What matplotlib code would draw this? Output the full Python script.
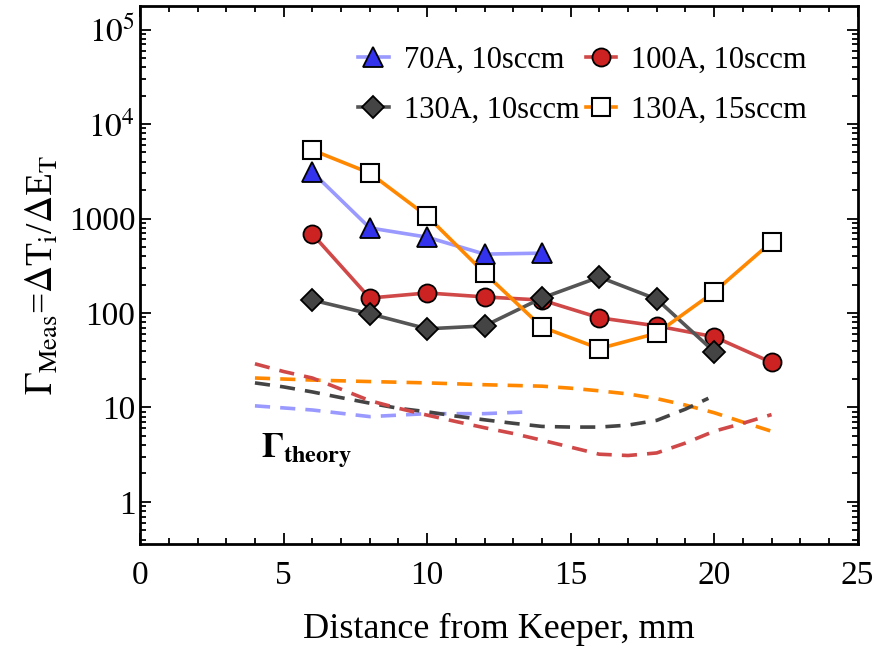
import numpy as np
import matplotlib.pyplot as plt
from matplotlib.ticker import FixedLocator, MultipleLocator, LogLocator, NullFormatter

plt.rcParams['font.family'] = ['Liberation Serif', 'DejaVu Serif']
plt.rcParams['mathtext.fontset'] = 'stix'

# measured data
x_70 = [6, 8, 10, 12, 14]
y_70 = [3100, 795, 635, 420, 430]

x_100 = [6, 8, 10, 12, 14, 16, 18, 20, 22]
y_100 = [685, 144, 163, 148, 137, 89, 73, 56, 30]

x_130 = [6, 8, 10, 12, 14, 16, 18, 20]
y_130 = [137, 98, 68, 73, 144, 240, 140, 39]

x_130_15 = [6, 8, 10, 12, 14, 16, 18, 20, 22]
y_130_15 = [5300, 3030, 1060, 265, 71, 42, 61, 167, 564]

# theory curves
xt_70 = [4, 6, 8, 10, 12, 13.6]
yt_70 = [10.4, 9.4, 8.0, 8.6, 8.6, 9.0]

xt_100 = [4, 5, 6, 7, 8, 9, 10, 11, 12, 13, 14, 15, 16, 17, 18, 19, 20, 21, 22]
yt_100 = [29, 24, 20.5, 15.6, 11.8, 9.8, 8.3, 7.1, 6.1, 5.3, 4.5, 3.8, 3.2, 3.1, 3.3, 4.2, 5.6, 6.8, 8.4]

xt_130 = [4, 5, 6, 7, 8, 9, 10, 11, 12, 13, 14, 15, 16, 17, 18, 19, 19.8]
yt_130 = [18.2, 16.5, 14.6, 12.7, 11.1, 9.8, 9.0, 8.1, 7.4, 6.8, 6.3, 6.2, 6.2, 6.5, 7.3, 9.6, 12.5]

xt_130_15 = [4, 6, 8, 10, 12, 14, 15, 16, 17, 18, 19, 20, 21, 22]
yt_130_15 = [20.5, 19.5, 18.8, 18.2, 17.4, 16.8, 16.0, 15.0, 13.9, 12.4, 10.6, 8.8, 7.0, 5.6]

yticks = [1, 10, 100, 1000, 1e4, 1e5]
ytick_labels = ['1', '10', '100', '1000', r'$10^4$', r'$10^5$']

fig = plt.figure(figsize=(8.76, 6.6), dpi=100)
ax = fig.add_axes([0.160, 0.176, 0.819, 0.815])

dash = (4.2, 2.8)
ax.plot(xt_70, yt_70, color='#9999ff', lw=2.6, dashes=dash)
ax.plot(xt_130_15, yt_130_15, color='#ff8800', lw=2.6, dashes=dash)
ax.plot(xt_130, yt_130, color='#444444', lw=2.6, dashes=dash)
ax.plot(xt_100, yt_100, color='#d04848', lw=2.6, dashes=dash)

h70, = ax.plot(x_70, y_70, color='#9999ff', lw=2.6, marker='^', ms=14,
               mfc='#3333ee', mec='black', mew=1.3, label='70A, 10sccm')
h100, = ax.plot(x_100, y_100, color='#d04848', lw=2.6, marker='o', ms=13,
                mfc='#cc2222', mec='black', mew=1.3, label='100A, 10sccm')
h130, = ax.plot(x_130, y_130, color='#555555', lw=2.6, marker='D', ms=11,
                mfc='#444444', mec='black', mew=1.3, label='130A, 10sccm')
h130_15, = ax.plot(x_130_15, y_130_15, color='#ff8800', lw=2.6, marker='s', ms=13,
                   mfc='white', mec='black', mew=1.5, label='130A, 15sccm')

ax.text(4.2, 2.9, r'$\mathbf{\Gamma_{theory}}$', fontsize=25)

ax.set_yscale('log')
ax.set_xlim(0, 25)
ax.set_ylim(0.36, 1.78e5)
ax.yaxis.set_major_locator(FixedLocator(yticks))
ax.set_yticklabels(ytick_labels)
ax.yaxis.set_minor_locator(LogLocator(base=10, subs=np.arange(2, 10)))
ax.yaxis.set_minor_formatter(NullFormatter())
ax.xaxis.set_major_locator(MultipleLocator(5))
ax.xaxis.set_minor_locator(MultipleLocator(1))

ax.tick_params(which='both', direction='in', top=True, right=True, labelsize=24, width=1.3)
ax.tick_params(which='major', length=8)
ax.tick_params(which='minor', length=4)
ax.tick_params(axis='x', pad=12)
for s in ax.spines.values():
    s.set_linewidth(2)

ax.set_xlabel('Distance from Keeper, mm', fontsize=26, labelpad=16)
ax.set_ylabel(r'$\Gamma_{\mathrm{Meas}}$=$\Delta$T$_\mathrm{i}$/$\Delta$E$_\mathrm{T}$', fontsize=27,
              labelpad=6)

ax.legend(handles=[h70, h130, h100, h130_15], loc='upper right', ncol=2, frameon=False,
          fontsize=22, handlelength=1.0, handletextpad=0.5, columnspacing=0.2,
          labelspacing=0.7, borderaxespad=0.9, bbox_to_anchor=(0.985, 1.0))

fig.savefig('out.png', dpi=100)
